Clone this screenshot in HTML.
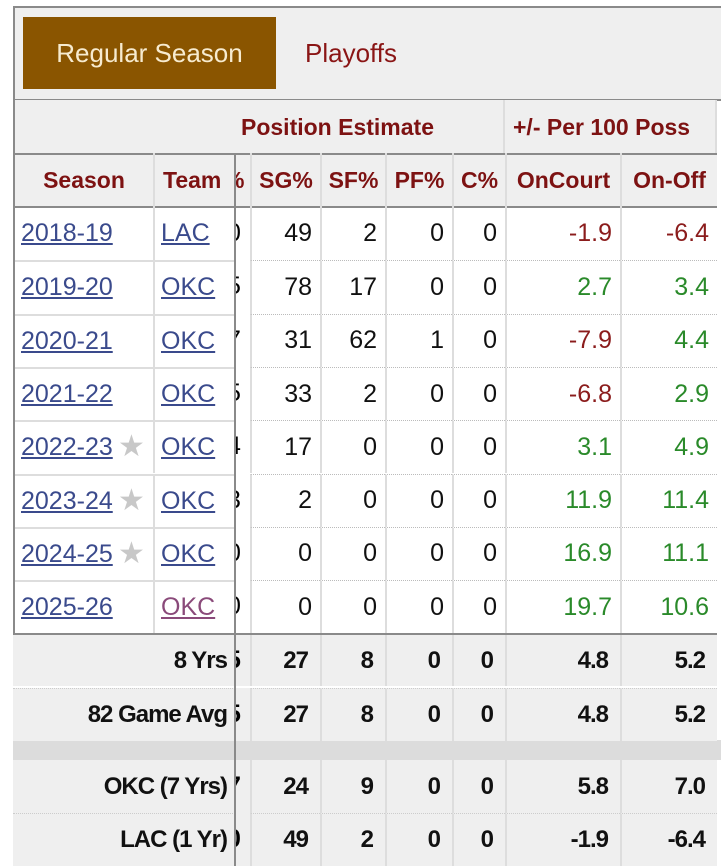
<!DOCTYPE html>
<html><head><meta charset="utf-8">
<style>
body{margin:0;width:721px;height:866px;overflow:hidden;background:#fff;font-family:"Liberation Sans",sans-serif;position:relative}
.a{position:absolute;box-sizing:border-box;white-space:nowrap}
.hd{color:#7d1212;font-weight:bold;font-size:23px;display:flex;align-items:center;justify-content:center}
.cell{display:flex;align-items:center;justify-content:flex-end;padding-right:8px;font-size:25px;color:#111}
.lnk{color:#3a4a8c;text-decoration:underline;font-size:25px;display:flex;align-items:center;padding-left:6px}
.ft{font-weight:bold;font-size:24px;letter-spacing:-1px;color:#111}
</style></head><body>
<div class="a" style="left:13px;top:6px;width:708px;height:95px;background:#efefef;border-top:2px solid #8a8a8a;border-left:2px solid #8a8a8a;border-bottom:2px solid #8a8a8a"></div>
<div class="a" style="left:23px;top:17px;width:253px;height:72px;background:#8a5500;color:#f7ebcf;font-size:26px;display:flex;align-items:center;justify-content:center">Regular Season</div>
<div class="a" style="left:305px;top:17px;height:72px;color:#8a1515;font-size:26px;display:flex;align-items:center">Playoffs</div>
<div id="t"></div>
<script>
const seasons=["2018-19","2019-20","2020-21","2021-22","2022-23","2023-24","2024-25","2025-26"];
const teams=["LAC","OKC","OKC","OKC","OKC","OKC","OKC","OKC"];
const stars=[0,0,0,0,1,1,1,0];
const pgPct=["0","5","7","5","4","3","0","0"];
const sgPct=[49,78,31,33,17,2,0,0];
const sfPct=[2,17,62,2,0,0,0,0];
const pfPct=[0,0,1,0,0,0,0,0];
const cPct=[0,0,0,0,0,0,0,0];
const onCourt=["-1.9","2.7","-7.9","-6.8","3.1","11.9","16.9","19.7"];
const onOff=["-6.4","3.4","4.4","2.9","4.9","11.4","11.1","10.6"];
const totLabels=["8 Yrs","82 Game Avg","OKC (7 Yrs)","LAC (1 Yr)"];
const totPg=["5","5","7","0"];
const totSg=[27,27,24,49];
const totSf=[8,8,9,2];
const totPf=[0,0,0,0];
const totC=[0,0,0,0];
const totOn=["4.8","4.8","5.8","-1.9"];
const totOff=["5.2","5.2","7.0","-6.4"];

const T=document.getElementById('t');
function mk(cls,x,y,w,h,txt,style){const d=document.createElement('div');d.className='a '+cls;d.style.left=x+'px';d.style.top=y+'px';d.style.width=w+'px';d.style.height=h+'px';if(style)d.style.cssText+=style;if(txt!==undefined)d.textContent=txt;T.appendChild(d);return d;}
const cols=[[250,70],[320,65],[385,67],[452,53],[505,115],[620,97]];
let e;
e=mk('',13,100,222,54,undefined,'background:#efefef;border-left:2px solid #8a8a8a;border-right:2px solid #8a8a8a');

e=mk('hd',233,100,272,54,'Position Estimate','background:#efefef;border-right:2px solid #ddd;justify-content:flex-start;padding-left:8px');

e=mk('hd',505,100,212,54,'+/- Per 100 Poss','background:#efefef;border-right:2px solid #ddd;justify-content:flex-start;padding-left:8px');

e=mk('',13,153,704,55,undefined,'background:#efefef;border-top:2px solid #8a8a8a;border-bottom:2px solid #8a8a8a');

e=mk('hd',13,153,142,55,'Season','border-left:2px solid #8a8a8a;border-right:2px solid #ddd');

e=mk('hd',155,153,80,55,'Team','justify-content:flex-start;padding-left:8px;overflow:hidden');

const hn=["SG%","SF%","PF%","C%","OnCourt","On-Off"];
hn.forEach((h,i)=>{e=mk('hd',cols[i][0],153,cols[i][1],55,h,'border-left:2px solid #ddd');

});
e=mk('hd',236,153,14,55,undefined,'overflow:hidden;justify-content:flex-start');e.innerHTML='<span style="margin-left:-12px">%</span>';

function clip(y,h,v,bold,bg){const d=mk('',236,y,14,h,undefined,'overflow:hidden;display:flex;align-items:center;font-size:25px;'+(bold?'font-weight:bold;':'')+(bg?'background:'+bg:''));d.innerHTML='<span style="margin-left:-9px">'+v+'</span>';return d;}
const rowH=53.3;
seasons.forEach((s,i)=>{
 const y=207+i*rowH;
 const bt=i? 'border-top:1px dotted #bbb;':'';
 e=mk('lnk',13,y,142,rowH,s,'border-left:2px solid #8a8a8a;border-right:2px solid #ddd;'+(i?'border-top:2px solid #ddd;':''));
 
 if(stars[i]){e=mk('',118,y,32,rowH,'★','color:#c8c8c8;font-size:30px;display:flex;align-items:center');
  }
 e=mk('lnk',155,y,80,rowH,teams[i],(i?'border-top:2px solid #ddd;':'')+(i==7?'color:#8a4a7a;':''));
 
 e=clip(y,rowH,pgPct[i]);
 const vals=[sgPct[i],sfPct[i],pfPct[i],cPct[i],onCourt[i],onOff[i]];
 vals.forEach((v,j)=>{let c='#111';if(j>=4)c=parseFloat(v)<0?'#8b1c1c':'#2a8a2a';
  e=mk('cell',cols[j][0],y,cols[j][1],rowH,v,'border-left:2px solid #ddd;color:'+c+';'+bt);
  });
});
e=mk('',13,633,704,2,undefined,'background:#8a8a8a');
e=mk('',13,207,2,428,undefined,'background:#8a8a8a');
const ty=[635,688,760,813];
e=mk('',13,740,708,20,undefined,'background:#dcdcdc');
totLabels.forEach((l,i)=>{const y=ty[i];const h=i==0?51:53;
 e=mk('ft',13,y,222,h,l,'background:#efefef;display:flex;align-items:center;justify-content:flex-end;padding-right:8px;'+(i%2?'border-top:1px dotted #ccc;':''));
 
 e=clip(y,h,totPg[i],true,'#efefef');
 const vals=[totSg[i],totSf[i],totPf[i],totC[i],totOn[i],totOff[i]];
 vals.forEach((v,j)=>{e=mk('cell ft',cols[j][0],y,cols[j][1],h,v,'background:#efefef;border-left:2px solid #ddd;padding-right:12px;'+(i%2?'border-top:1px dotted #ccc;':''));
  });
});
e=mk('',234,153,2,713,undefined,'background:#8a8a8a');
</script>
</body></html>
